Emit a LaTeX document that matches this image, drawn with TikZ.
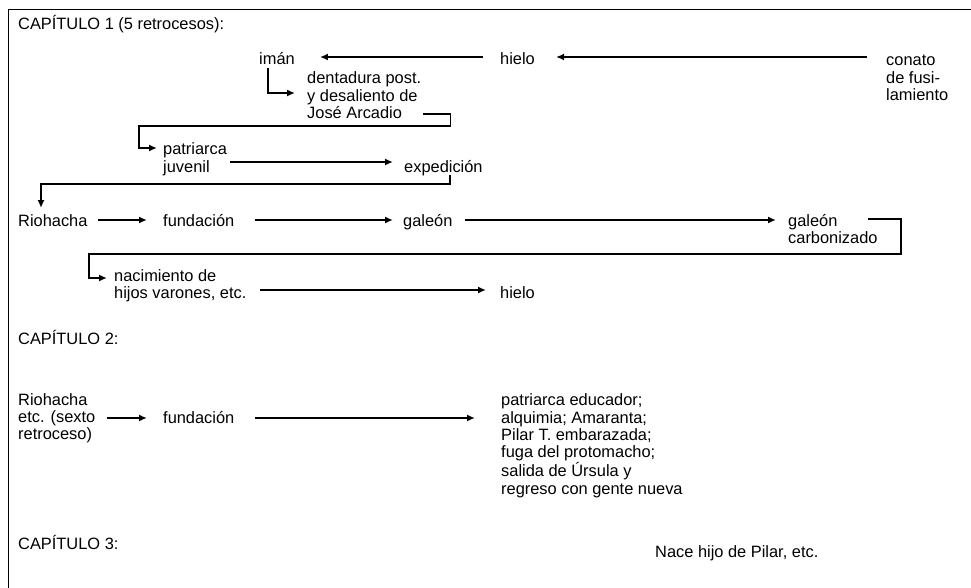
\documentclass[tikz,border=0pt]{standalone}
\usepackage{fontspec}
\setmainfont{Liberation Sans}
\usetikzlibrary{arrows.meta}

\begin{document}
\begin{tikzpicture}
  [x=1pt, y=-1pt,
    txt/.style={font=\fontsize{16.4}{17.4}\selectfont, inner sep=0pt,
      anchor=base west, align=left},
    ar/.style={draw=black, line width=1.6pt, -{Latex[length=8pt,width=7pt]}}
  ]
  \useasboundingbox (0,0) rectangle (971,588);
  \draw [line width=1.6pt] (971,9.5) -| (8.5,588);

  % capitulo 1 (multi-line nodes sit on their last baseline)
  \node (cap1)       at ( 18, 30)   [txt] {CAPÍTULO 1 (5 retrocesos):};
  \node (iman)       at (259, 65)   [txt] {imán};
  \node (hielo1)     at (500, 65)   [txt] {hielo};
  \node (conato)     at (886,100.5) [txt] {conato\\de fusi-\\lamiento};
  \node (dentadura)  at (307,118.8) [txt] {dentadura post.\\y desaliento de\\José Arcadio};
  \node (patriarca)  at (163,172.4) [txt] {patriarca\\juvenil};
  \node (expedicion) at (404,173)   [txt] {expedición};
  \node (rio1)       at ( 18,226)   [txt] {Riohacha};
  \node (fund1)      at (163,226)   [txt] {fundación};
  \node (galeon)     at (403,226)   [txt] {galeón};
  \node (carbon)     at (788,243.4) [txt] {galeón\\carbonizado};
  \node (nacim)      at (114,298.4) [txt] {nacimiento de\\hijos varones, etc.};
  \node (hielo2)     at (500,298)   [txt] {hielo};

  % capitulo 2
  \node (cap2)       at ( 18,344)   [txt] {CAPÍTULO 2:};
  \node (rio2)       at ( 18,439.8) [txt] {Riohacha\\etc. (sexto\\retroceso)};
  \node (fund2)      at (163,423)   [txt] {fundación};
  \node (educador)   at (501,494)   [txt] {patriarca educador;\\alquimia; Amaranta;\\Pilar T. embarazada;\\fuga del protomacho;\\salida de Úrsula y\\regreso con gente nueva};

  % capitulo 3
  \node (cap3)       at ( 18,549)   [txt] {CAPÍTULO 3:};
  \node (nace)       at (655,557)   [txt] {Nace hijo de Pilar, etc.};

  \draw [ar] ([xshift=-19pt,yshift=43.5pt]conato.base west)
    -- ([xshift=21pt,yshift=8pt]hielo1.base east);
  \draw [ar] ([xshift=-17pt,yshift=8pt]hielo1.base west)
    -- ([xshift=25pt,yshift=8pt]iman.base east);
  \draw [ar] ([xshift=9pt,yshift=-3pt]iman.base west)
    |- ([xshift=-12pt,yshift=25.8pt]dentadura.base west);
  \draw [ar] ([xshift=2pt,yshift=4.8pt]dentadura.base east)
    -- ++(27,0) -- ++(0,12)
    -| ([xshift=-24pt,yshift=24.4pt]patriarca.base west)
    -- ([xshift=-6pt,yshift=24.4pt]patriarca.base west);
  \draw [ar] ([xshift=3pt,yshift=10.4pt]patriarca.base east)
    -- ([xshift=-11pt,yshift=11pt]expedicion.base west);
  \draw [ar] ([xshift=46pt,yshift=-2pt]expedicion.base west)
    -- ++(0,9)
    -| ([xshift=23pt,yshift=18pt]rio1.base west);
  \draw [ar] ([xshift=10pt,yshift=6pt]rio1.base east)
    -- ([xshift=-16pt,yshift=6pt]fund1.base west);
  \draw [ar] ([xshift=20pt,yshift=6pt]fund1.base east)
    -- ([xshift=-10pt,yshift=6pt]galeon.base west);
  \draw [ar] ([xshift=12pt,yshift=6pt]galeon.base east)
    -- ([xshift=-12pt,yshift=23.4pt]carbon.base west);
  \draw [ar] ([xshift=-10pt,yshift=24.4pt]carbon.base east)
    -- ++(33,0) -- ++(0,35)
    -| ([xshift=-25pt,yshift=20.4pt]nacim.base west)
    -- ([xshift=-7pt,yshift=20.4pt]nacim.base west);
  \draw [ar] ([xshift=13pt,yshift=8.4pt]nacim.base east)
    -- ([xshift=-14pt,yshift=8pt]hielo2.base west);

  \draw [ar] ([xshift=11pt,yshift=21.8pt]rio2.base east)
    -- ([xshift=-16pt,yshift=5pt]fund2.base west);
  \draw [ar] ([xshift=20pt,yshift=5pt]fund2.base east)
    -- ([xshift=-26pt,yshift=76pt]educador.base west);
\end{tikzpicture}
\end{document}
